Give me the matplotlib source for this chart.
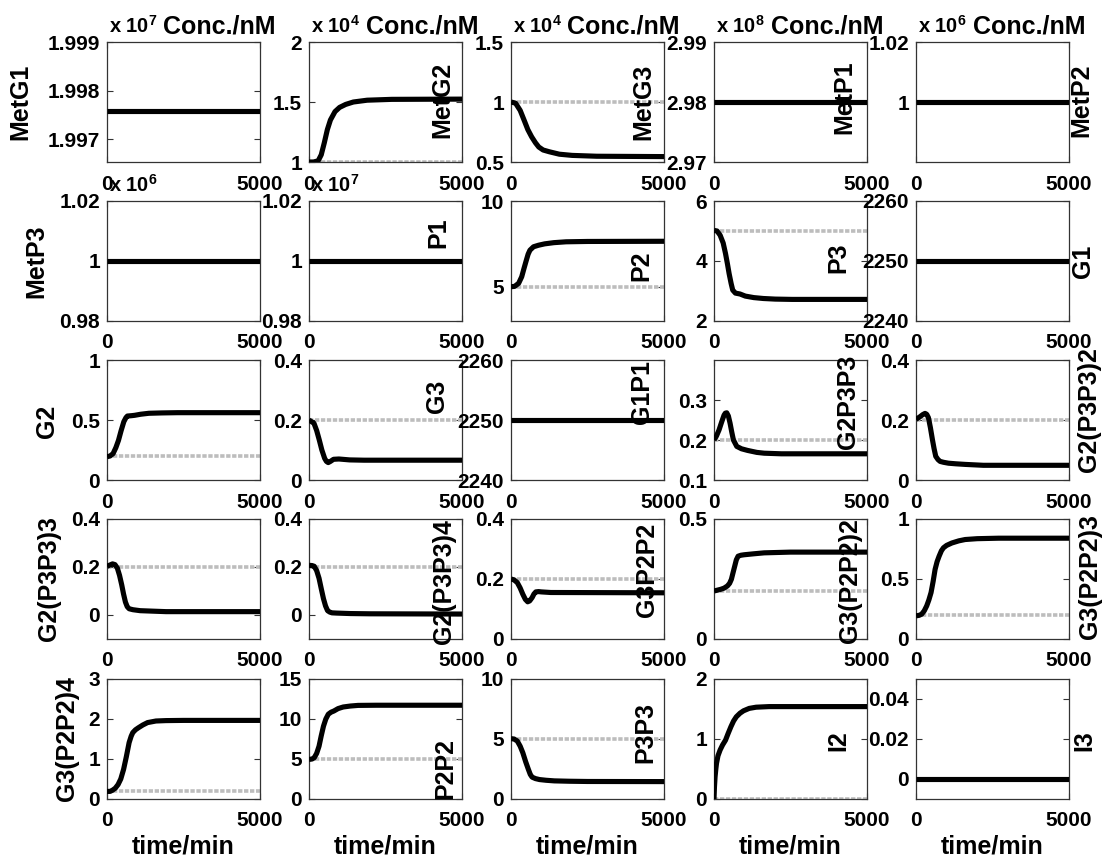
import matplotlib
matplotlib.use('Agg')
import matplotlib.pyplot as plt
from matplotlib import transforms
from matplotlib.ticker import FuncFormatter

plt.rcParams['font.family'] = ['Liberation Sans', 'DejaVu Sans']
plt.rcParams['font.weight'] = 'bold'
plt.rcParams['mathtext.fontset'] = 'custom'
plt.rcParams['mathtext.rm'] = 'Liberation Sans:bold'
plt.rcParams['mathtext.bf'] = 'Liberation Sans:bold'
plt.rcParams['mathtext.it'] = 'Liberation Sans:bold'

# ---------------- data ----------------
species = ['MetG1', 'MetG2', 'MetG3', 'MetP1', 'MetP2',
           'MetP3', 'P1', 'P2', 'P3', 'G1',
           'G2', 'G3', 'G1P1', 'G2P3P3', 'G2(P3P3)2',
           'G2(P3P3)3', 'G2(P3P3)4', 'G3P2P2', 'G3(P2P2)2', 'G3(P2P2)3',
           'G3(P2P2)4', 'P2P2', 'P3P3', 'I2', 'I3']

# power-of-ten multipliers shown above some panels
scale_exp = [7, 4, 4, 8, 6,
             6, 7, None, None, None,
             None, None, None, None, None,
             None, None, None, None, None,
             None, None, None, None, None]

# initial values (grey dotted reference lines), in displayed units
init_vals = [1.99757, 1.0, 1.0, 2.98, 1.0,
             1.0, 1.0, 5.0, 5.0, 2250,
             0.2, 0.2, 2250, 0.2, 0.2,
             0.2, 0.2, 0.2, 0.2, 0.2,
             0.2, 5.0, 5.0, 0.0, 0.0]

t_const = [0, 5000]
metg1 = [1.99757, 1.99757]
metp1 = [2.98, 2.98]
metp2 = [1.0, 1.0]
metp3 = [1.0, 1.0]
p1 = [1.0, 1.0]
g1 = [2250, 2250]
g1p1 = [2250, 2250]
i3 = [0.0, 0.0]

t_metg2 = [0, 150, 300, 400, 500, 600, 700, 850, 1000, 1200, 1450, 1900, 2700, 5000]
metg2 = [1.0, 1.0, 1.01, 1.06, 1.16, 1.27, 1.35, 1.42, 1.455, 1.48, 1.5, 1.515, 1.522, 1.524]

t_metg3 = [0, 150, 300, 442, 550, 674, 800, 907, 1050, 1256, 1581, 2000, 2800, 5000]
metg3 = [1.0, 0.99, 0.93, 0.84, 0.77, 0.71, 0.66, 0.625, 0.60, 0.585, 0.565, 0.555, 0.548, 0.545]

t_p2 = [0, 120, 250, 350, 430, 502, 560, 619, 736, 900, 1100, 1400, 1800, 2500, 5000]
p2 = [5.0, 5.02, 5.2, 5.58, 6.1, 6.55, 6.9, 7.13, 7.33, 7.42, 7.5, 7.57, 7.62, 7.64, 7.65]

t_p3 = [0, 100, 200, 300, 376, 440, 494, 560, 612, 700, 850, 1024, 1300, 1612, 2000, 2553, 5000]
p3 = [5.02, 5.0, 4.86, 4.6, 4.25, 3.9, 3.58, 3.25, 3.03, 2.93, 2.9, 2.83, 2.78, 2.75, 2.73, 2.72, 2.72]

t_g2 = [0, 100, 199, 290, 375, 460, 550, 620, 667, 800, 902, 1100, 1370, 1800, 2307, 5000]
g2 = [0.194, 0.2, 0.22, 0.27, 0.33, 0.41, 0.486, 0.52, 0.533, 0.536, 0.539, 0.548, 0.556, 0.559, 0.561, 0.561]

t_g3 = [0, 163, 250, 337, 420, 512, 570, 628, 700, 802, 977, 1326, 1800, 5000]
g3 = [0.2, 0.189, 0.165, 0.133, 0.1, 0.072, 0.062, 0.058, 0.062, 0.069, 0.07, 0.067, 0.066, 0.066]

t_g2p3p3 = [0, 80, 164, 250, 328, 370, 416, 470, 525, 580, 635, 744, 900, 1094, 1400, 1641, 2200, 5000]
g2p3p3 = [0.2, 0.21, 0.225, 0.245, 0.262, 0.267, 0.268, 0.26, 0.242, 0.22, 0.2, 0.184, 0.178, 0.174, 0.169, 0.167, 0.1655, 0.1655]

t_g2p3p3_2 = [0, 131, 220, 295, 350, 405, 470, 536, 590, 645, 720, 788, 900, 1061, 1300, 1608, 2200, 5000]
g2p3p3_2 = [0.202, 0.211, 0.218, 0.222, 0.219, 0.208, 0.175, 0.135, 0.105, 0.079, 0.068, 0.062, 0.059, 0.056, 0.054, 0.052, 0.049, 0.049]

t_g2p3p3_3 = [0, 90, 181, 260, 337, 410, 482, 540, 602, 660, 723, 850, 1084, 1500, 1928, 5000]
g2p3p3_3 = [0.203, 0.208, 0.213, 0.21, 0.196, 0.165, 0.125, 0.088, 0.054, 0.035, 0.026, 0.022, 0.018, 0.016, 0.014, 0.014]

t_g2p3p3_4 = [0, 100, 170, 250, 328, 400, 473, 540, 607, 680, 752, 900, 1359, 2000, 5000]
g2p3p3_4 = [0.207, 0.206, 0.203, 0.185, 0.153, 0.11, 0.068, 0.038, 0.018, 0.012, 0.009, 0.008, 0.006, 0.005, 0.004]

t_g3p2p2 = [0, 100, 206, 300, 387, 470, 545, 610, 690, 750, 811, 900, 993, 1300, 5000]
g3p2p2 = [0.2, 0.197, 0.188, 0.17, 0.149, 0.132, 0.124, 0.127, 0.138, 0.15, 0.157, 0.158, 0.157, 0.155, 0.154]

t_g3p2p2_2 = [0, 219, 330, 438, 510, 569, 620, 678, 730, 788, 880, 985, 1300, 1641, 2500, 5000]
g3p2p2_2 = [0.2, 0.207, 0.212, 0.221, 0.232, 0.249, 0.275, 0.304, 0.33, 0.345, 0.349, 0.351, 0.355, 0.359, 0.362, 0.362]

t_g3p2p2_3 = [0, 100, 186, 270, 350, 420, 492, 560, 624, 690, 755, 830, 897, 1000, 1171, 1400, 1608, 2000, 2702, 5000]
g3p2p2_3 = [0.193, 0.197, 0.207, 0.235, 0.276, 0.325, 0.387, 0.48, 0.58, 0.645, 0.69, 0.735, 0.76, 0.78, 0.80, 0.818, 0.829, 0.836, 0.84, 0.84]

t_g3p2p2_4 = [0, 100, 181, 270, 361, 450, 542, 630, 723, 790, 843, 930, 1024, 1170, 1325, 1600, 1928, 2500, 5000]
g3p2p2_4 = [0.19, 0.19, 0.22, 0.27, 0.36, 0.5, 0.74, 1.05, 1.41, 1.57, 1.66, 1.73, 1.78, 1.85, 1.91, 1.95, 1.96, 1.965, 1.965]

t_p2p2 = [0, 100, 170, 250, 328, 400, 473, 550, 631, 720, 813, 950, 1117, 1350, 1602, 2200, 5000]
p2p2 = [4.94, 5.0, 5.15, 5.7, 6.6, 7.9, 9.1, 10.0, 10.6, 10.85, 11.0, 11.3, 11.5, 11.62, 11.7, 11.72, 11.72]

t_p3p3 = [0, 100, 206, 300, 387, 480, 569, 630, 690, 800, 932, 1150, 1416, 1900, 2500, 5000]
p3p3 = [5.03, 5.0, 4.83, 4.4, 3.85, 3.1, 2.46, 2.05, 1.82, 1.7, 1.62, 1.56, 1.51, 1.48, 1.46, 1.45]

t_i2 = [0, 15, 35, 60, 82, 130, 200, 280, 376, 460, 553, 640, 729, 850, 965, 1150, 1376, 1800, 2500, 5000]
i2 = [0.0, 0.2, 0.37, 0.5, 0.595, 0.72, 0.817, 0.9, 0.98, 1.09, 1.205, 1.3, 1.37, 1.43, 1.47, 1.51, 1.53, 1.54, 1.54, 1.54]

series_t = [t_const, t_metg2, t_metg3, t_const, t_const,
            t_const, t_const, t_p2, t_p3, t_const,
            t_g2, t_g3, t_const, t_g2p3p3, t_g2p3p3_2,
            t_g2p3p3_3, t_g2p3p3_4, t_g3p2p2, t_g3p2p2_2, t_g3p2p2_3,
            t_g3p2p2_4, t_p2p2, t_p3p3, t_i2, t_const]
series_v = [metg1, metg2, metg3, metp1, metp2,
            metp3, p1, p2, p3, g1,
            g2, g3, g1p1, g2p3p3, g2p3p3_2,
            g2p3p3_3, g2p3p3_4, g3p2p2, g3p2p2_2, g3p2p2_3,
            g3p2p2_4, p2p2, p3p3, i2, i3]

ylims = [(1.99653, 1.999), (1, 2), (0.5, 1.5), (2.97, 2.99), (0.98, 1.02),
         (0.98, 1.02), (0.98, 1.02), (3, 10), (2, 6), (2240, 2260),
         (0, 1), (0, 0.4), (2240, 2260), (0.1, 0.4), (0, 0.4),
         (-0.1, 0.4), (-0.1, 0.4), (0, 0.4), (0, 0.5), (0, 1),
         (0, 3), (0, 15), (0, 10), (0, 2), (-0.01, 0.05)]
yticks = [[1.997, 1.998, 1.999], [1, 1.5, 2], [0.5, 1, 1.5], [2.97, 2.98, 2.99], [1, 1.02],
          [0.98, 1, 1.02], [0.98, 1, 1.02], [5, 10], [2, 4, 6], [2240, 2250, 2260],
          [0, 0.5, 1], [0, 0.2, 0.4], [2240, 2250, 2260], [0.1, 0.2, 0.3], [0, 0.2, 0.4],
          [0, 0.2, 0.4], [0, 0.2, 0.4], [0, 0.2, 0.4], [0, 0.5], [0, 0.5, 1],
          [0, 1, 2, 3], [0, 5, 10, 15], [0, 5, 10], [0, 1, 2], [0, 0.02, 0.04]]
xticks = [0, 5000]

# ---------------- layout ----------------
W, H = 1104, 861
col_left = [107, 309, 511, 714, 916]
row_top = [42, 201, 360, 519, 679]
ax_w, ax_h = 153, 120

label_xf = [-0.565, 0.869, 0.863, 0.85, 1.078,
            -0.464, 0.843, 0.85, 0.81, 1.09,
            -0.392, 0.837, 0.856, 0.876, 1.13,
            -0.379, 0.88, 0.89, 0.89, 1.137,
            -0.261, 0.89, 0.876, 0.81, 1.098]
label_yf = [0.5, 0.517, 0.5, 0.54, 0.517,
            0.5, 0.733, 0.458, 0.525, 0.5,
            0.49, 0.7, 0.733, 0.65, 0.583,
            0.5, 0.475, 0.575, 0.483, 0.517,
            0.5, 0.258, 0.558, 0.49, 0.49]

fig = plt.figure(figsize=(W / 100, H / 100), dpi=100)
fig.patch.set_facecolor('white')

fmt = FuncFormatter(lambda v, p: ('%g' % v))

for k, name in enumerate(species):
    r, c = divmod(k, 5)
    L = col_left[c]
    T = row_top[r]
    ax = fig.add_axes([L / W, 1 - (T + ax_h) / H, ax_w / W, ax_h / H])
    ax.plot(xticks, [init_vals[k], init_vals[k]], color='#bdbdbd', lw=2.6,
            linestyle=(0, (1.2, 0.45)), zorder=2)
    ax.plot(series_t[k], series_v[k], color='black', lw=3.7,
            solid_joinstyle='round', solid_capstyle='butt', zorder=3)
    ax.set_xlim(0, 5000)
    ax.set_ylim(*ylims[k])
    ax.set_xticks(xticks)
    ax.set_yticks(yticks[k])
    ax.yaxis.set_major_formatter(fmt)
    ax.xaxis.set_major_formatter(fmt)
    ax.tick_params(direction='in', length=4, width=0.8, color='#333333',
                   labelsize=15, top=True, right=True)
    ax.tick_params(axis='x', pad=9)
    ax.tick_params(axis='y', pad=5)
    for lab in ax.get_xticklabels() + ax.get_yticklabels():
        lab.set_fontweight('bold')
    for sp in ax.spines.values():
        sp.set_color('#333333')
        sp.set_linewidth(0.9)

    ax.text(label_xf[k], label_yf[k], name, transform=ax.transAxes,
            rotation=90, ha='center', va='center', fontsize=18,
            fontweight='bold', clip_on=False)

    if scale_exp[k] is not None:
        tr = transforms.offset_copy(ax.transAxes, fig=fig, x=2, y=9, units='dots')
        ax.text(0, 1, r'x 10$^{%d}$' % scale_exp[k], transform=tr,
                ha='left', va='baseline', fontsize=14.5, fontweight='bold')
    if r == 0:
        tr = transforms.offset_copy(ax.transAxes, fig=fig, x=16, y=9, units='dots')
        ax.text(1, 1, 'Conc./nM', transform=tr, ha='right', va='baseline',
                fontsize=18, fontweight='bold')
    if r == 4:
        ax.set_xlabel('time/min', fontsize=18, fontweight='bold', labelpad=3)

fig.savefig('out.png', dpi=100, facecolor='white')
